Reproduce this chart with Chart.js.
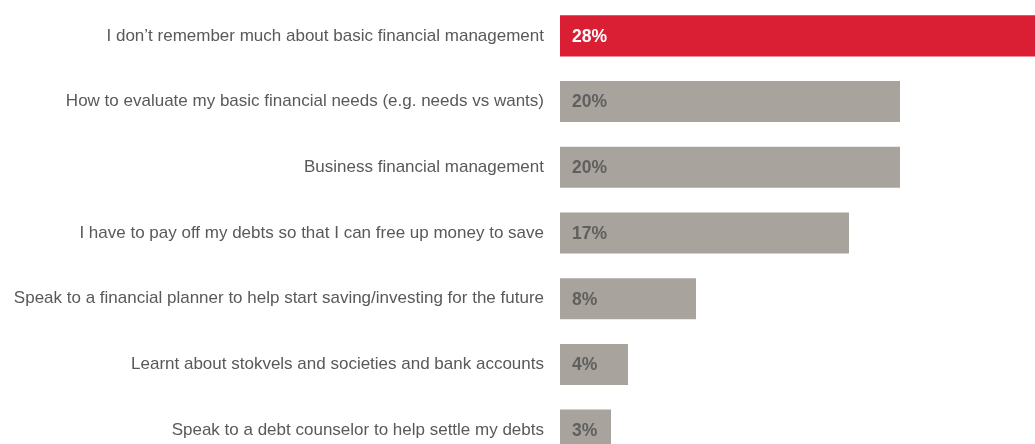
<!DOCTYPE html>
<html>
<head>
<meta charset="utf-8">
<script src="https://cdn.jsdelivr.net/npm/chart.js@4/dist/chart.umd.min.js"></script>
<style>
  html, body { margin: 0; padding: 0; background: #ffffff; overflow: hidden; }
  #wrap { position: absolute; left: 0; top: 0; width: 1036px; height: 463px; }
</style>
</head>
<body>
<div id="wrap"><canvas id="chart"></canvas></div>
<script>
const categories = [
  "I don\u2019t remember much about basic financial management",
  "How to evaluate my basic financial needs (e.g. needs vs wants)",
  "Business financial management",
  "I have to pay off my debts so that I can free up money to save",
  "Speak to a financial planner to help start saving/investing for the future",
  "Learnt about stokvels and societies and bank accounts",
  "Speak to a debt counselor to help settle my debts"
];
const shares = [28, 20, 20, 17, 8, 4, 3];
const highlightIndex = 0;

const RED = "#DA1F35";
const GREY = "#A8A39C";

// Writes each bar's percentage just inside its left end
const valueLabels = {
  id: "valueLabels",
  afterDatasetsDraw(chart) {
    const ctx = chart.ctx;
    const meta = chart.getDatasetMeta(0);
    ctx.save();
    ctx.font = "bold 17.5px 'Liberation Sans', Arial, sans-serif";
    ctx.textAlign = "left";
    ctx.textBaseline = "middle";
    meta.data.forEach((bar, i) => {
      ctx.fillStyle = i === highlightIndex ? "#ffffff" : "#5f5f5f";
      ctx.fillText(shares[i] + "%", bar.base + 12, bar.y + 1);
    });
    ctx.restore();
  }
};

new Chart(document.getElementById("chart"), {
  type: "bar",
  data: {
    labels: categories,
    datasets: [{
      data: shares,
      backgroundColor: shares.map((v, i) => i === highlightIndex ? RED : GREY),
      borderWidth: 0,
      barPercentage: 0.625,
      categoryPercentage: 1
    }]
  },
  options: {
    indexAxis: "y",
    responsive: true,
    maintainAspectRatio: false,
    animation: false,
    layout: { padding: { top: 3, bottom: 0, left: 0, right: 0 } },
    plugins: {
      legend: { display: false },
      tooltip: { enabled: false }
    },
    scales: {
      x: {
        display: false,
        min: 0,
        max: 28
      },
      y: {
        grid: { display: false, drawTicks: false },
        border: { display: false },
        ticks: {
          color: "#595959",
          font: { family: "'Liberation Sans', Arial, sans-serif", size: 17 },
          padding: 16
        },
        afterFit(scale) {
          scale.width = 560;
          scale.paddingTop = 0;
          scale.paddingBottom = 0;
        }
      }
    }
  },
  plugins: [valueLabels]
});
</script>
</body>
</html>
